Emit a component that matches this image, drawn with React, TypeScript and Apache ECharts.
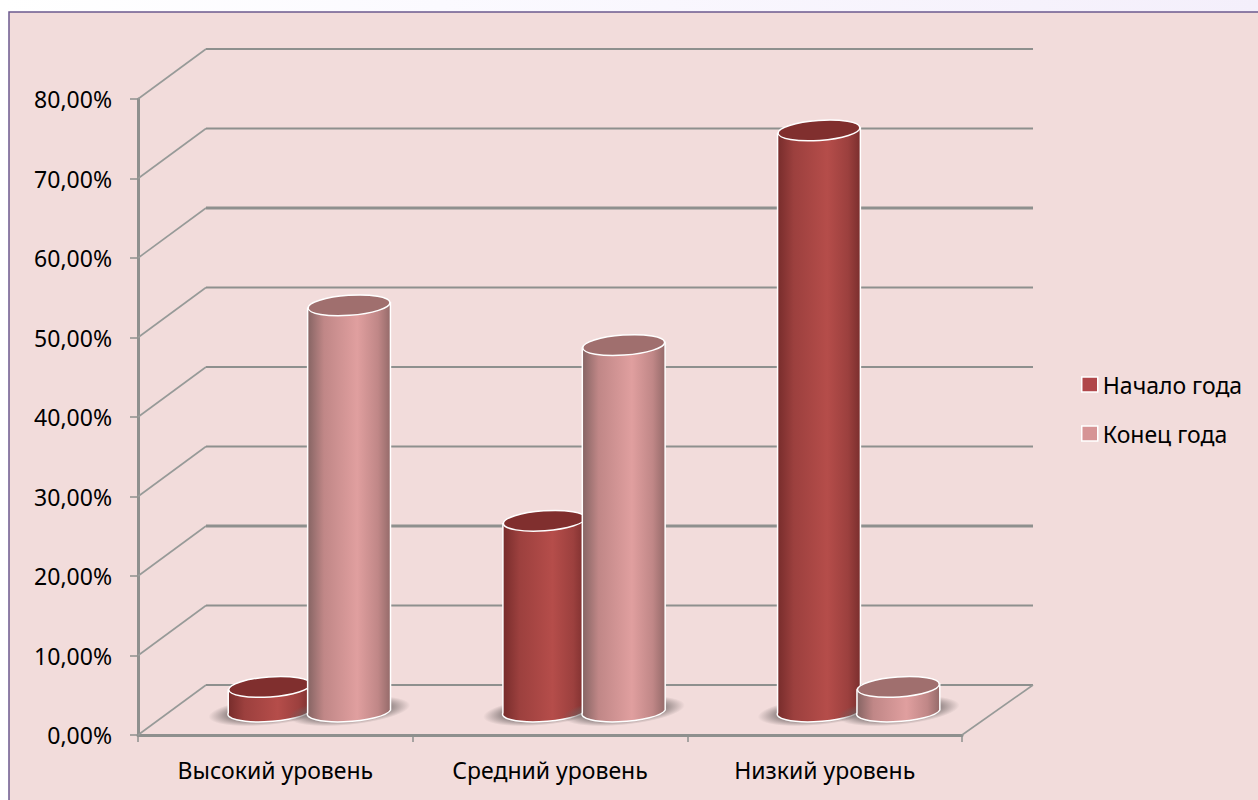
import React, { useEffect, useRef } from "react";
import * as echarts from "echarts";

const categories = ["Высокий уровень", "Средний уровень", "Низкий уровень"];
const seriesNames = ["Начало года", "Конец года"];
const startOfYear = [2.9, 23.8, 72.9];
const endOfYear = [50.9, 45.9, 2.9];
const yTicks = [0, 10, 20, 30, 40, 50, 60, 70, 80];
const heavyTicks = [20, 60];

const FONT = "'Noto Sans', 'Open Sans', sans-serif";
const DEPTH_X = 68;
const DEPTH_Y = 50;
const GRID_COLOR = "#8e908e";
const RX = 41.5;
const RY = 10;
const TILT = 0.07;

const palettes = [
  { edgeL: "#762c2b", shade: "#9c403e", mid: "#b54d4a", edgeR: "#7a2e2d", top: "#802f2e", legend: "#b0474a", offset: -39.7 },
  { edgeL: "#846362", shade: "#c08787", mid: "#e09f9f", edgeR: "#946a69", top: "#a06f6e", legend: "#d69495", offset: 39.7 },
];

function wallRender(params: any, api: any) {
  const v = api.value(1);
  const g = params.coordSys;
  const p = api.coord([0, v]);
  const y = p[1];
  const x0 = g.x;
  const x1 = g.x + g.width;
  const lineW = heavyTicks.includes(v) ? 3 : 2;
  const children: any[] = [
    {
      type: "line",
      shape: { x1: x0, y1: y, x2: x0 + DEPTH_X, y2: y - DEPTH_Y },
      style: { stroke: "#979a98", lineWidth: 1.6 },
    },
    {
      type: "line",
      shape: { x1: x0 + DEPTH_X, y1: y - DEPTH_Y, x2: x1 + DEPTH_X + 3, y2: y - DEPTH_Y },
      style: { stroke: GRID_COLOR, lineWidth: lineW },
    },
  ];
  if (v === 0) {
    children.push({
      type: "line",
      shape: { x1: x1, y1: y, x2: x1 + DEPTH_X + 3, y2: y - DEPTH_Y },
      style: { stroke: "#979a98", lineWidth: 1.6 },
    });
  }
  return { type: "group", children };
}

function cylinderRender(seriesIndex: number) {
  const pal = palettes[seriesIndex];
  return (params: any, api: any) => {
    const idx = api.value(0);
    const base = api.coord([idx, 0]);
    const top = api.coord([idx, api.value(1)]);
    const cx = base[0] + pal.offset + DEPTH_X / 2;
    const yb = base[1] - DEPTH_Y / 2;
    const yt = top[1] - DEPTH_Y / 2;
    const dx = RX * Math.cos(TILT);
    const dy = RX * Math.sin(TILT);
    const deg = (-TILT * 180) / Math.PI;
    const d =
      `M ${cx - dx} ${yt + dy} L ${cx - dx} ${yb + dy} ` +
      `A ${RX} ${RY} ${deg} 0 0 ${cx + dx} ${yb - dy} ` +
      `L ${cx + dx} ${yt - dy} Z`;
    return {
      type: "group",
      children: [
        {
          type: "ellipse",
          x: cx,
          y: yb + 1,
          rotation: 0.1,
          shape: { cx: 0, cy: 0, rx: RX + 20, ry: RY + 4 },
          style: {
            fill: new echarts.graphic.RadialGradient(0.5, 0.5, 0.5, [
              { offset: 0, color: "rgba(110,100,100,0.9)" },
              { offset: 0.6, color: "rgba(110,100,100,0.85)" },
              { offset: 1, color: "rgba(110,100,100,0)" },
            ]),
          },
        },
        {
          type: "path",
          shape: { pathData: d },
          style: {
            fill: new echarts.graphic.LinearGradient(0, 0, 1, 0, [
              { offset: 0, color: pal.edgeL },
              { offset: 0.2, color: pal.shade },
              { offset: 0.6, color: pal.mid },
              { offset: 0.85, color: pal.shade },
              { offset: 1, color: pal.edgeR },
            ]),
            stroke: "#ffffff",
            lineWidth: 1.5,
          },
        },
        {
          type: "ellipse",
          x: cx,
          y: yt,
          rotation: TILT,
          shape: { cx: 0, cy: 0, rx: RX - 0.5, ry: RY },
          style: { fill: pal.top, stroke: "#ffffff", lineWidth: 1.5 },
        },
      ],
    };
  };
}

export default function App() {
  const ref = useRef<HTMLDivElement>(null);
  useEffect(() => {
    const chart = echarts.init(ref.current!, undefined, { renderer: "svg" });
    chart.setOption({
      animation: false,
      backgroundColor: new echarts.graphic.LinearGradient(0, 0, 1, 0, [
        { offset: 0, color: "#ffffff" },
        { offset: 0.35, color: "#fbfaff" },
        { offset: 1, color: "#f4effb" },
      ]),
      textStyle: { fontFamily: FONT },
      graphic: [
        {
          type: "rect",
          z: -1,
          shape: { x: 9, y: 12, width: 1260, height: 800 },
          style: { fill: "#f2dcdb", stroke: "#6c5a8e", lineWidth: 1.5 },
        },
      ],
      grid: { left: 138, top: 99, width: 824, height: 636, containLabel: false },
      xAxis: {
        type: "category",
        data: categories,
        axisLine: { lineStyle: { color: GRID_COLOR, width: 3 } },
        axisTick: { show: true, length: 7, lineStyle: { color: GRID_COLOR, width: 1.5 } },
        axisLabel: { color: "#000000", fontSize: 23, fontFamily: FONT, margin: 23 },
      },
      yAxis: {
        type: "value",
        min: 0,
        max: 80,
        interval: 10,
        splitLine: { show: false },
        axisLine: { show: true, lineStyle: { color: GRID_COLOR, width: 3 } },
        axisTick: { show: true, length: 8, lineStyle: { color: GRID_COLOR, width: 1.5 } },
        axisLabel: {
          color: "#000000",
          fontSize: 23,
          fontFamily: FONT,
          margin: 26,
          padding: [4, 0, 0, 0],
          formatter: (v: number) => v.toFixed(2).replace(".", ",") + "%",
        },
      },
      legend: {
        orient: "vertical",
        left: 1081,
        top: 373,
        padding: 0,
        itemWidth: 16,
        itemHeight: 15,
        itemGap: 26,
        textStyle: { fontSize: 23, color: "#000000", fontFamily: FONT },
        data: seriesNames.map((name, i) => ({
          name,
          icon: "rect",
          itemStyle: { color: palettes[i].legend, borderColor: "#ffffff", borderWidth: 1.5 },
        })),
      },
      series: [
        {
          type: "custom",
          name: "walls",
          z: 1,
          silent: true,
          renderItem: wallRender,
          data: yTicks.map((v) => [0, v]),
        },
        ...[startOfYear, endOfYear].map((values, i) => ({
          type: "custom",
          name: seriesNames[i],
          z: 3 + i,
          renderItem: cylinderRender(i),
          itemStyle: { color: palettes[i].legend },
          data: values.map((v, idx) => [idx, v]),
        })),
      ],
    });
    return () => chart.dispose();
  }, []);
  return <div ref={ref} style={{ position: "fixed", left: 0, top: 0, width: 1258, height: 800 }} />;
}
